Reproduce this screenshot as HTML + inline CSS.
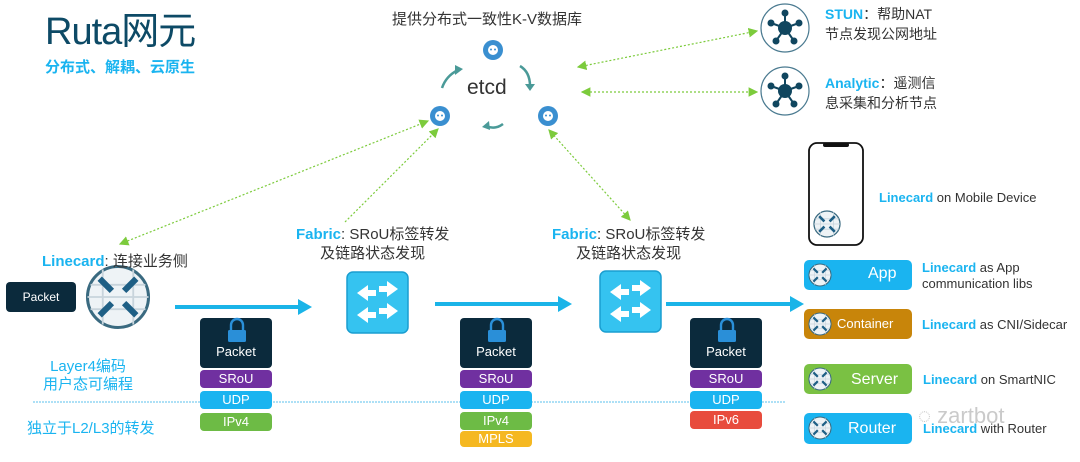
<!DOCTYPE html>
<html><head><meta charset="utf-8"><style>
body{margin:0;width:1080px;height:462px;background:#fff;overflow:hidden;position:relative;font-family:"Liberation Sans","Noto Sans CJK SC",sans-serif}
.t{position:absolute;white-space:nowrap;color:#333}
.b{color:#1ab4f0;font-weight:bold}
.box{position:absolute;border-radius:4px;color:#fff;text-align:center;font-size:13px}
</style></head><body>
<svg width="1080" height="462" style="position:absolute;left:0;top:0">
<defs>
<marker id="ga" markerWidth="8" markerHeight="8" refX="7" refY="4" orient="auto-start-reverse"><path d="M0,0 L8,4 L0,8z" fill="#7ccb3c"/></marker>
<g id="rt">
<circle r="10" fill="#eef3f6" stroke="#3a6a80" stroke-width="1"/>
<path d="M-9,-4H9M-10,0H10M-9,4H9M-5,-9V9M5,-9V9" stroke="#c8d4dc" stroke-width="0.6"/>
<path d="M-6,-6L-2,-2M6,-6L2,-2M-6,6L-2,2M6,6L2,2" stroke="#1e5f85" stroke-width="2"/>
</g>
<g id="hub">
<circle r="24" fill="#fff" stroke="#4a7a90" stroke-width="1.2"/>
<g stroke="#10465f" stroke-width="2"><path d="M0,0L0,-15M0,0L14,-5M0,0L9,13M0,0L-9,13M0,0L-14,-5"/></g>
<g fill="#10465f"><circle r="7"/><circle cy="-15" r="3.5"/><circle cx="14" cy="-5" r="3.5"/><circle cx="9" cy="13" r="3.5"/><circle cx="-9" cy="13" r="3.5"/><circle cx="-14" cy="-5" r="3.5"/></g>
</g>
<g id="ec"><circle r="10" fill="#3a8fd0"/><circle r="5" fill="#fff"/><circle cx="-2" cy="-0.5" r="1" fill="#3a8fd0"/><circle cx="2" cy="-0.5" r="1" fill="#3a8fd0"/></g>
</defs>
<g stroke="#7ccb3c" stroke-width="1.2" stroke-dasharray="2,2" fill="none">
<line x1="578" y1="67" x2="757" y2="31" marker-start="url(#ga)" marker-end="url(#ga)"/>
<line x1="582" y1="92" x2="757" y2="92" marker-start="url(#ga)" marker-end="url(#ga)"/>
<line x1="120" y1="244" x2="428" y2="121" marker-start="url(#ga)" marker-end="url(#ga)"/>
<line x1="345" y1="222" x2="438" y2="129" marker-end="url(#ga)"/>
<line x1="630" y1="220" x2="549" y2="130" marker-start="url(#ga)" marker-end="url(#ga)"/>
</g>
<use href="#ec" x="493" y="50"/><use href="#ec" x="440" y="116"/><use href="#ec" x="548" y="116"/>
<g stroke="#4a9a98" stroke-width="2.5" fill="none">
<path d="M442,88 Q446,76 458,70"/><path d="M520,66 Q530,72 530,86"/><path d="M486,126 Q495,130 503,124"/>
</g>
<g fill="#4a9a98"><path d="M455,65 L463,69 L455,75z"/><path d="M525,84 L535,84 L530,91z"/><path d="M489,121 L482,127 L490,130z"/></g>
<use href="#hub" x="785" y="28"/><use href="#hub" x="785" y="91"/>
<g stroke="#1ab4e8" stroke-width="4"><line x1="175" y1="307" x2="300" y2="307"/><line x1="435" y1="304" x2="560" y2="304"/><line x1="666" y1="304" x2="792" y2="304"/></g>
<g fill="#1ab4e8"><path d="M298,299L312,307L298,315z"/><path d="M558,296L572,304L558,312z"/><path d="M790,296L804,304L790,312z"/></g>
<line x1="33" y1="402" x2="786" y2="402" stroke="#5bc2ee" stroke-width="1" stroke-dasharray="2,1"/>
<g transform="translate(118,297) scale(3.05)"><use href="#rt"/></g>
<g id="sw"><rect x="347" y="272" width="61" height="61" rx="6" fill="#35c3f0" stroke="#1a9ed0" stroke-width="1.5"/>
<g fill="#fff"><path d="M357,293L368,285V290H376V296H368V301z"/><path d="M398,289L387,281V286H379V292H387V297z"/><path d="M357,315L368,307V312H376V318H368V323z"/><path d="M398,311L387,303V308H379V314H387V319z"/></g></g>
<use href="#sw" x="253" y="-1"/>
<rect x="809" y="143" width="54" height="102" rx="8" fill="#fff" stroke="#111" stroke-width="1.8"/>
<rect x="823" y="143" width="26" height="4" rx="2" fill="#111"/>
<g transform="translate(827,224) scale(1.3)"><use href="#rt"/></g>
<rect x="804" y="260" width="108" height="30" rx="5" fill="#1ab4f0"/>
<rect x="804" y="309" width="108" height="30" rx="5" fill="#c8850a"/>
<rect x="804" y="364" width="108" height="30" rx="5" fill="#7ac143"/>
<rect x="804" y="413" width="108" height="31" rx="5" fill="#1ab4f0"/>
<g transform="translate(820,275) scale(1.1)"><use href="#rt"/></g>
<g transform="translate(820,324) scale(1.1)"><use href="#rt"/></g>
<g transform="translate(820,379) scale(1.1)"><use href="#rt"/></g>
<g transform="translate(820,428) scale(1.1)"><use href="#rt"/></g>
</svg>

<div class="t" style="left:45px;top:10px;font-size:38px;line-height:44px;color:#0d4a66;letter-spacing:-1px">Ruta网元</div>
<div class="t" style="left:45px;top:56px;font-size:15px;color:#1ab4f0;font-weight:bold">分布式、解耦、云原生</div>
<div class="t" style="left:392px;top:8px;font-size:15px">提供分布式一致性K-V数据库</div>
<div class="t" style="left:467px;top:76px;font-size:21px;color:#333">etcd</div>
<div class="t" style="left:825px;top:4px;font-size:14px;line-height:20px"><span class="b">STUN</span>：帮助NAT<br>节点发现公网地址</div>
<div class="t" style="left:825px;top:73px;font-size:14px;line-height:20px"><span class="b">Analytic</span>：遥测信<br>息采集和分析节点</div>
<div class="t" style="left:42px;top:250px;font-size:15px"><span class="b">Linecard</span>: 连接业务侧</div>
<div class="t" style="left:296px;top:225px;font-size:15px;text-align:center;line-height:19px"><span class="b">Fabric</span>: SRoU标签转发<br>及链路状态发现</div>
<div class="t" style="left:552px;top:225px;font-size:15px;text-align:center;line-height:19px"><span class="b">Fabric</span>: SRoU标签转发<br>及链路状态发现</div>
<div class="box" style="left:6px;top:282px;width:70px;height:30px;line-height:30px;background:#0b2a3c;font-size:12px">Packet</div>
<div class="t" style="left:43px;top:358px;font-size:15px;color:#1ab4f0;text-align:center;line-height:18px">Layer4编码<br>用户态可编程</div>
<div class="t" style="left:27px;top:417px;font-size:15px;color:#1ab4f0">独立于L2/L3的转发</div>

<div class="box" style="left:200px;top:318px;width:72px;height:50px;background:#0b2a3c;line-height:68px">Packet</div>
<div class="box" style="left:200px;top:370px;width:72px;height:18px;background:#7030a0;line-height:18px">SRoU</div>
<div class="box" style="left:200px;top:391px;width:72px;height:18px;background:#1ab4f0;line-height:18px">UDP</div>
<div class="box" style="left:200px;top:413px;width:72px;height:18px;background:#6dbb45;line-height:18px">IPv4</div>

<div class="box" style="left:460px;top:318px;width:72px;height:50px;background:#0b2a3c;line-height:68px">Packet</div>
<div class="box" style="left:460px;top:370px;width:72px;height:18px;background:#7030a0;line-height:18px">SRoU</div>
<div class="box" style="left:460px;top:391px;width:72px;height:18px;background:#1ab4f0;line-height:18px">UDP</div>
<div class="box" style="left:460px;top:412px;width:72px;height:18px;background:#6dbb45;line-height:18px">IPv4</div>
<div class="box" style="left:460px;top:431px;width:72px;height:16px;background:#f5b821;line-height:16px">MPLS</div>

<div class="box" style="left:690px;top:318px;width:72px;height:50px;background:#0b2a3c;line-height:68px">Packet</div>
<div class="box" style="left:690px;top:370px;width:72px;height:18px;background:#7030a0;line-height:18px">SRoU</div>
<div class="box" style="left:690px;top:391px;width:72px;height:18px;background:#1ab4f0;line-height:18px">UDP</div>
<div class="box" style="left:690px;top:411px;width:72px;height:18px;background:#e84c3d;line-height:18px">IPv6</div>

<svg width="1080" height="462" style="position:absolute;left:0;top:0;pointer-events:none">
<g id="lk"><path d="M231,330 v-5 a6,6 0 0 1 12,0 v5" fill="none" stroke="#2a8fd8" stroke-width="2.4"/><rect x="228" y="330" width="18" height="12" rx="1.5" fill="#2a8fd8"/></g>
<use href="#lk" x="260" y="0"/><use href="#lk" x="490" y="0"/>
</svg>

<div class="t" style="left:868px;top:265px;font-size:16px;color:#fff">App</div>
<div class="t" style="left:837px;top:316px;font-size:13px;color:#fff">Container</div>
<div class="t" style="left:851px;top:371px;font-size:16px;color:#fff">Server</div>
<div class="t" style="left:848px;top:420px;font-size:16px;color:#fff">Router</div>
<div class="t" style="left:879px;top:190px;font-size:13px"><span class="b">Linecard</span> on Mobile Device</div>
<div class="t" style="left:922px;top:260px;font-size:13px;line-height:16px"><span class="b">Linecard</span> as App<br>communication libs</div>
<div class="t" style="left:922px;top:317px;font-size:13px"><span class="b">Linecard</span> as CNI/Sidecar</div>
<div class="t" style="left:923px;top:372px;font-size:13px"><span class="b">Linecard</span> on SmartNIC</div>
<div class="t" style="left:923px;top:421px;font-size:13px"><span class="b">Linecard</span> with Router</div>
<div class="t" style="left:918px;top:403px;font-size:22px;color:rgba(150,150,150,0.5)">◌ zartbot</div>
</body></html>
